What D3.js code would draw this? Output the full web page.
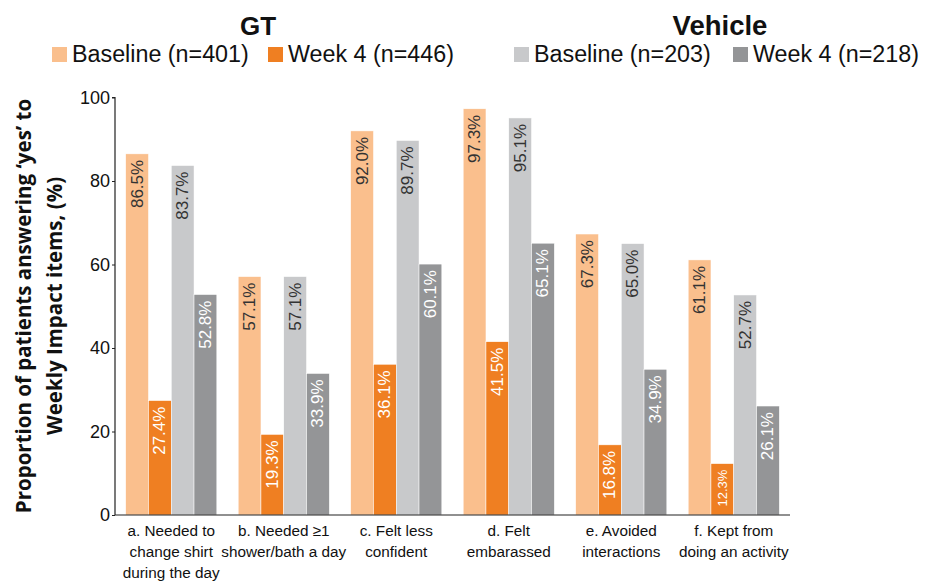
<!DOCTYPE html>
<html><head><meta charset="utf-8">
<script src="https://cdn.jsdelivr.net/npm/d3@7"></script>
<style>body{margin:0;background:#fff}svg{display:block}</style>
</head><body>
<script>
const categories = [
  ["a. Needed to","change shirt","during the day"],
  ["b. Needed ≥1","shower/bath a day"],
  ["c. Felt less","confident"],
  ["d. Felt","embarassed"],
  ["e. Avoided","interactions"],
  ["f. Kept from","doing an activity"]
];
const seriesNames = ["Baseline (n=401)","Week 4 (n=446)","Baseline (n=203)","Week 4 (n=218)"];
const gtBaseline = [86.5, 57.1, 92.0, 97.3, 67.3, 61.1];
const gtWeek4 = [27.4, 19.3, 36.1, 41.5, 16.8, 12.3];
const vehBaseline = [83.7, 57.1, 89.7, 95.1, 65.0, 52.7];
const vehWeek4 = [52.8, 33.9, 60.1, 65.1, 34.9, 26.1];
const yTicks = [0, 20, 40, 60, 80, 100];
const colors = ["#FABF8D", "#EF7F22", "#C8C9CB", "#949597"];
const labelColors = ["#333", "#fff", "#333", "#fff"];
const series = [gtBaseline, gtWeek4, vehBaseline, vehWeek4];

const W = 933, H = 584;
const svg = d3.select("body").append("svg").attr("width", W).attr("height", H);
const font = "'Liberation Sans', Arial, sans-serif";

const x0 = d3.scaleBand().domain(d3.range(categories.length)).range([115, 790]).paddingInner(0.19).paddingOuter(0.095);
const x1 = d3.scaleBand().domain(d3.range(4)).range([0, x0.bandwidth()]);
const y = d3.scaleLinear().domain([0, 100]).range([515, 97.5]);

// bars
const g = svg.append("g");
series.forEach((vals, si) => {
  vals.forEach((v, ci) => {
    const bx = x0(ci) + x1(si), bw = x1.bandwidth();
    g.append("rect").attr("x", bx).attr("y", y(v)).attr("width", bw).attr("height", y(0) - y(v))
      .attr("fill", colors[si]).attr("stroke", "#fff").attr("stroke-width", 0.5);
    const fs = v < 15 ? 13 : 17;
    g.append("text")
      .attr("transform", `translate(${bx + bw / 2},${y(v) + 6}) rotate(-90)`)
      .attr("text-anchor", "end").attr("dominant-baseline", "central")
      .attr("font-family", font).attr("font-size", fs).attr("fill", labelColors[si])
      .text(v.toFixed(1) + "%");
  });
});

// y axis
const ya = svg.append("g").attr("transform", "translate(115,0)")
  .call(d3.axisLeft(y).tickValues(yTicks).tickSize(3).tickPadding(2));
ya.select(".domain").attr("stroke", "#222").attr("stroke-width", 1.2).attr("d", `M-3,${y(100)}H0V${y(0)}`);
ya.selectAll(".tick line").attr("stroke", "#222");
ya.selectAll(".tick text").attr("font-family", font).attr("font-size", 18).attr("fill", "#111");

// x axis line
svg.append("line").attr("x1", 115).attr("x2", 790).attr("y1", y(0)).attr("y2", y(0))
  .attr("stroke", "#222").attr("stroke-width", 1.2);

// x labels
categories.forEach((lines, ci) => {
  const cx = x0(ci) + x0.bandwidth() / 2;
  const t = svg.append("text").attr("x", cx).attr("y", 536)
    .attr("text-anchor", "middle").attr("font-family", font).attr("font-size", 15.3).attr("fill", "#111");
  lines.forEach((l, li) => t.append("tspan").attr("x", cx).attr("dy", li ? 21 : 0).text(l));
});

// y title
const yt = svg.append("text").attr("transform", "translate(39,306) rotate(-90)")
  .attr("text-anchor", "middle").attr("font-family", "'Open Sans', sans-serif").attr("font-weight", "bold")
  .attr("font-size", 20.5).attr("fill", "#111");
yt.append("tspan").attr("x", 0).attr("dy", -8).text("Proportion of patients answering ‘yes’ to");
yt.append("tspan").attr("x", 0).attr("dy", 31).text("Weekly Impact items, (%)");

// legends
const titles = [{t: "GT", x: 258, s: 26}, {t: "Vehicle", x: 720, s: 27.5}];
titles.forEach(d => svg.append("text").attr("x", d.x).attr("y", 35).attr("text-anchor", "middle")
  .attr("font-family", font).attr("font-weight", "bold").attr("font-size", d.s).attr("fill", "#111").text(d.t));
const legX = [52, 268, 514, 733];
seriesNames.forEach((n, i) => {
  svg.append("rect").attr("x", legX[i]).attr("y", 47).attr("width", 15).attr("height", 15).attr("fill", colors[i]);
  svg.append("text").attr("x", legX[i] + 20).attr("y", 62).attr("font-family", font).attr("font-size", 23.3)
    .attr("fill", "#111").text(n);
});
</script>
</body></html>
